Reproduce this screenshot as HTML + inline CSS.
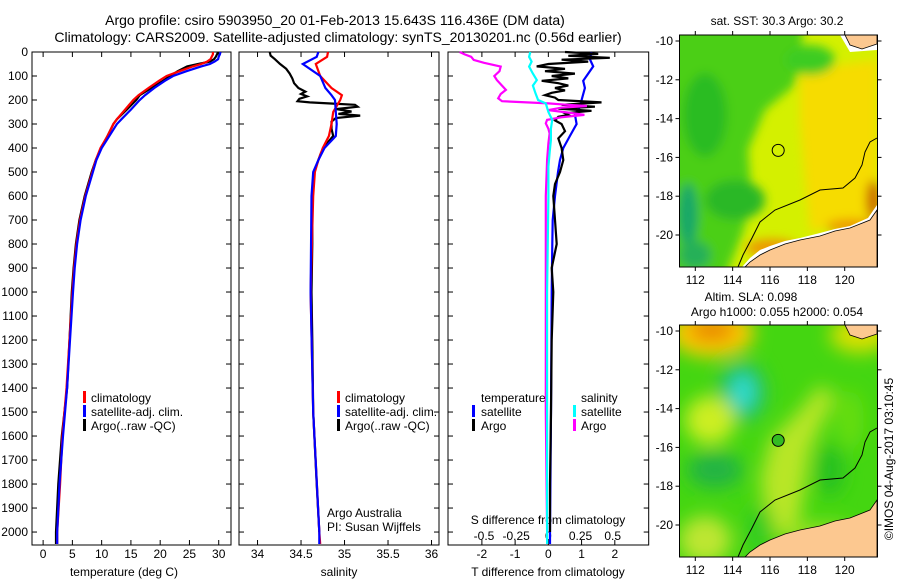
<!DOCTYPE html>
<html><head><meta charset="utf-8">
<style>
html,body{margin:0;padding:0;background:#fff;}
svg{display:block;font-family:"Liberation Sans",sans-serif;}
text{font-size:12px;fill:#000;}
.t14{font-size:14px;}
</style></head>
<body>
<svg id="fig" width="900" height="580" viewBox="0 0 900 580" xmlns="http://www.w3.org/2000/svg">
<defs>
<clipPath id="clipSST"><rect x="679.5" y="35" width="198" height="232"/></clipPath>
<clipPath id="clipSLA"><rect x="679.5" y="325" width="198" height="232"/></clipPath>
<filter id="blurS" x="-20%" y="-20%" width="140%" height="140%"><feGaussianBlur stdDeviation="5"/></filter>
<filter id="blurL" x="-30%" y="-30%" width="160%" height="160%"><feGaussianBlur stdDeviation="9"/></filter>
</defs>
<text class="t14" x="335" y="25" text-anchor="middle">Argo profile: csiro 5903950_20 01-Feb-2013 15.643S 116.436E (DM data)</text>
<text class="t14" x="338" y="42" text-anchor="middle">Climatology: CARS2009. Satellite-adjusted climatology: synTS_20130201.nc (0.56d earlier)</text>

<!-- SST map -->
<g clip-path="url(#clipSST)">
  <rect x="679.5" y="35" width="198" height="232" fill="#d4f000"/>
  <g filter="url(#blurS)">
    <polygon points="800,70 877,60 877,215 810,232 805,180 800,120" fill="#f6dc00"/>
    <polygon points="640,20 805,20 795,85 765,110 748,150 752,200 742,235 720,290 640,290" fill="#4ccf14"/>
    <ellipse cx="705" cy="115" rx="22" ry="42" fill="#2cbc22"/>
    <ellipse cx="735" cy="200" rx="30" ry="20" fill="#2cb828"/>
    <ellipse cx="688" cy="215" rx="10" ry="32" fill="#18a868"/>
    <ellipse cx="695" cy="255" rx="16" ry="14" fill="#26b058"/>
    <ellipse cx="810" cy="60" rx="25" ry="15" fill="#3ccc22"/>
    <ellipse cx="772" cy="248" rx="26" ry="9" fill="#ec9a00"/>
    <ellipse cx="852" cy="226" rx="26" ry="7" fill="#ec9a00"/>
    <ellipse cx="873" cy="200" rx="7" ry="20" fill="#cc6a00"/>
  </g>
  <polygon points="840,35 877,35 877,50 850,52" fill="#ffffff"/>
  <polygon points="845,35 877,35 877,44 862,49 850,45" fill="#fcc890" stroke="#000" stroke-width="0.8"/>
  <polygon points="877,205 868,218 850,226 835,229 820,233 800,238 785,241 770,246 760,250 750,258 742,267 877,267" fill="#ffffff"/>
  <polygon points="877,210 870,220 850,228 835,231 820,236 800,240 785,244 770,250 760,255 750,262 745,267 877,267" fill="#fcc890" stroke="#000" stroke-width="0.8"/>
  <polyline points="877,138 870,142 865,152 862,165 855,178 843,188 820,190 800,200 775,210 760,222 752,238 743,255 738,267" fill="none" stroke="#000" stroke-width="1"/>
  <circle cx="778.2" cy="150.4" r="6" fill="none" stroke="#000" stroke-width="1"/>
</g>
<rect x="679.5" y="35" width="198" height="232" fill="none" stroke="#000" stroke-width="1"/>
<text x="777" y="25" text-anchor="middle">sat. SST: 30.3 Argo: 30.2</text>

<!-- SLA map -->
<g clip-path="url(#clipSLA)">
  <rect x="679.5" y="325" width="198" height="232" fill="#44d611"/>
  <g filter="url(#blurL)">
    <ellipse cx="712" cy="333" rx="42" ry="24" fill="#ffcc00"/>
    <ellipse cx="712" cy="330" rx="24" ry="12" fill="#e88800"/>
    <ellipse cx="860" cy="335" rx="30" ry="18" fill="#d8e000"/>
    <ellipse cx="742" cy="392" rx="24" ry="30" fill="#22c066"/>
    <ellipse cx="743" cy="392" rx="12" ry="18" fill="#33dcd0"/>
    <ellipse cx="710" cy="420" rx="25" ry="24" fill="#ccee22"/>
    <ellipse cx="705" cy="540" rx="26" ry="24" fill="#bde633"/>
    <ellipse cx="715" cy="470" rx="28" ry="18" fill="#22b444"/>
    <polygon points="770,440 800,410 820,385 835,395 810,450 800,520 770,540 760,480" fill="#b8e625"/>
    <ellipse cx="830" cy="470" rx="14" ry="26" fill="#28c022"/>
    <ellipse cx="850" cy="420" rx="14" ry="30" fill="#66dd11"/>
    <ellipse cx="760" cy="530" rx="14" ry="25" fill="#33cc22"/>
    <ellipse cx="820" cy="535" rx="40" ry="12" fill="#99e022"/>
  </g>
  <polygon points="845,325 877,325 877,334 862,339 850,335" fill="#fcc890" stroke="#000" stroke-width="0.8"/>
  <polygon points="877,500 870,510 850,518 835,521 820,526 800,530 785,534 770,540 760,545 750,552 745,557 877,557" fill="#fcc890" stroke="#000" stroke-width="0.8"/>
  <polyline points="877,428 870,432 865,442 862,455 855,468 843,478 820,480 800,490 775,500 760,512 752,528 743,545 738,557" fill="none" stroke="#000" stroke-width="1"/>
  <circle cx="778.2" cy="440.4" r="6" fill="#33bb22" stroke="#000" stroke-width="1"/>
</g>
<rect x="679.5" y="325" width="198" height="232" fill="none" stroke="#000" stroke-width="1"/>
<text x="751" y="301" text-anchor="middle">Altim. SLA: 0.098</text>
<text x="777" y="316" text-anchor="middle">Argo h1000: 0.055 h2000: 0.054</text>
<text x="0" y="0" transform="translate(893,459) rotate(-90)" text-anchor="middle">©IMOS 04-Aug-2017 03:10:45</text>

<!-- legends / annotations -->
<g>
  <rect x="83" y="391" width="3" height="12" fill="#f00"/><text x="91" y="402">climatology</text>
  <rect x="83" y="405" width="3" height="12" fill="#00f"/><text x="91" y="416">satellite-adj. clim.</text>
  <rect x="83" y="419" width="3" height="12" fill="#000"/><text x="91" y="430">Argo(..raw -QC)</text>
</g>
<g>
  <rect x="337" y="391" width="3" height="12" fill="#f00"/><text x="345" y="402">climatology</text>
  <rect x="337" y="405" width="3" height="12" fill="#00f"/><text x="345" y="416">satellite-adj. clim.</text>
  <rect x="337" y="419" width="3" height="12" fill="#000"/><text x="345" y="430">Argo(..raw -QC)</text>
</g>
<text x="327" y="517">Argo Australia</text>
<text x="327" y="531">PI: Susan Wijffels</text>
<g>
  <text x="481" y="402">temperature</text>
  <rect x="472" y="405" width="3" height="12" fill="#00f"/><text x="481" y="416">satellite</text>
  <rect x="472" y="419" width="3" height="12" fill="#000"/><text x="481" y="430">Argo</text>
  <text x="581" y="402">salinity</text>
  <rect x="573" y="405" width="3" height="12" fill="#0ff"/><text x="581" y="416">satellite</text>
  <rect x="573" y="419" width="3" height="12" fill="#f0f"/><text x="581" y="430">Argo</text>
</g>
<text x="548" y="524" text-anchor="middle">S difference from climatology</text>
<text x="124" y="576" text-anchor="middle">temperature (deg C)</text>
<text x="339" y="576" text-anchor="middle">salinity</text>
<text x="548" y="576" text-anchor="middle">T difference from climatology</text>
</svg>

<script>
// ---------- data ----------
const tempDepth = [0,10,20,30,40,50,60,80,100,120,150,180,200,240,280,300,350,400,450,500,600,700,800,900,1000,1200,1400,1600,1800,2000,2050];
const tempClim = [29.0,29.0,28.8,28.6,28.0,27.0,25.6,23.3,21.1,19.8,18.0,16.3,15.4,14.0,12.6,12.0,11.0,9.8,9.0,8.4,7.2,6.3,5.7,5.3,5.0,4.5,4.0,3.3,2.9,2.4,2.4];
const tempSat = [30.3,30.2,30.0,29.9,29.3,28.5,27.0,24.5,22.2,20.8,19.0,17.4,16.5,15.0,13.4,12.6,11.3,10.0,9.1,8.5,7.3,6.4,5.8,5.4,5.1,4.6,4.1,3.4,2.8,2.4,2.4];
const tempArgo = [29.9,29.7,29.5,29.2,28.5,26.5,24.6,23.0,21.7,20.5,18.5,16.5,15.9,14.3,12.6,12.0,11.0,9.9,9.0,8.3,7.1,6.2,5.6,5.2,4.9,4.5,4.1,3.2,2.6,2.2,2.2];

const salDepth = [0,20,50,100,150,180,200,250,300,350,400,450,500,600,1000,1500,2000,2050];
const salClim = [34.81,34.80,34.67,34.72,34.85,34.97,34.95,34.87,34.85,34.82,34.75,34.70,34.66,34.64,34.61,34.64,34.71,34.72];
const salSat = [34.70,34.68,34.52,34.72,34.78,34.85,34.89,34.90,34.91,34.90,34.77,34.70,34.64,34.62,34.61,34.64,34.71,34.71];
const salArgoDepth = [0,15,30,50,70,90,110,130,150,165,175,185,195,205,210,215,220,228,238,248,258,265,275,290,320,350,380,420,470,500,600,800,1000,1200,1500,1800,2000];
const salArgo = [34.14,34.15,34.20,34.26,34.33,34.37,34.40,34.42,34.47,34.55,34.50,34.57,34.48,34.46,34.60,34.87,35.12,35.15,34.90,35.08,34.93,35.18,34.90,34.85,34.85,34.87,34.80,34.73,34.68,34.65,34.63,34.63,34.62,34.63,34.64,34.68,34.71];

const tDiffSatDepth = [0,30,60,90,120,150,200,230,260,300,350,400,450,500,600,700,800,1000,1500,2000,2050];
const tDiffSat = [1.3,1.25,1.35,1.2,1.05,1.1,1.0,0.95,0.8,0.85,0.65,0.45,0.35,0.29,0.2,0.13,0.12,0.1,0.08,0.05,0.05];
const tDiffArgoDepth = [0,8,16,24,32,40,50,60,70,80,90,100,110,120,130,140,150,160,170,180,190,200,210,220,228,236,245,255,262,270,285,300,330,360,400,450,500,550,600,700,800,900,1000,1200,1500,1800,2000];
const tDiffArgo = [0.5,1.5,0.6,1.85,0.4,1.2,0.0,-0.35,0.5,-0.1,0.8,0.1,0.6,-0.2,0.3,0.6,0.2,0.5,0.1,-0.1,0.2,0.3,1.6,0.4,1.4,0.3,1.3,0.5,0.6,0.3,0.2,0.4,0.5,0.3,0.4,0.45,0.35,0.2,0.15,0.2,0.25,0.1,0.15,0.1,0.08,0.05,0.05];
const sDiffArgoDepth = [0,10,20,33,45,61,80,100,117,140,158,175,193,205,214,220,225,232,242,252,262,272,283,297,320,339,380,450,600,1000,1500,2000];
const sDiffArgo = [-0.69,-0.65,-0.6,-0.58,-0.5,-0.37,-0.38,-0.42,-0.4,-0.36,-0.33,-0.37,-0.39,-0.36,0.0,0.15,0.3,0.1,0.0,0.15,0.28,0.1,-0.01,-0.02,0.0,0.01,0.0,-0.01,-0.02,-0.02,-0.02,-0.01];
const sDiffSatDepth = [0,20,40,61,90,117,140,172,200,214,250,283,320,367,420,478,600,1000,2000,2050];
const sDiffSat = [-0.14,-0.15,-0.13,-0.15,-0.12,-0.09,-0.12,-0.1,-0.08,-0.02,0.0,0.03,0.02,0.02,0.01,0.0,0.0,-0.01,-0.01,-0.01];

const depthTicks = [0,100,200,300,400,500,600,700,800,900,1000,1100,1200,1300,1400,1500,1600,1700,1800,1900,2000];
const tempTicks = [0,5,10,15,20,25,30];
const salTicks = [34,34.5,35,35.5,36];
const tDiffTicks = [-2,-1,0,1,2];
const sDiffTicks = [-0.5,-0.25,0,0.25,0.5];
const sDiffTickLabels = ["-0.5","-0.25","0","0.25","0.5"];
const lonTicks = [112,114,116,118,120];
const latTicks = [-10,-12,-14,-16,-18,-20];

// ---------- scales ----------
const PT = 52, PB = 545, DMAX = 2054;
const yD = d => PT + d / DMAX * (PB - PT);
const lin = (d0,d1,r0,r1) => v => r0 + (v - d0) / (d1 - d0) * (r1 - r0);
const xTemp = lin(-1.9, 32.1, 32, 231);
const xSal = lin(33.787, 36.086, 239, 439);
const xTD = lin(-3.02, 3.02, 448, 648.7);
const xSD = lin(-0.78, 0.78, 448, 648.7);
const xLon = lin(112, 120, 695.3, 844.7);
const yLatSST = lin(-10, -20, 41, 235);
const yLatSLA = lin(-10, -20, 331, 525);

const NS = "http://www.w3.org/2000/svg";
const svg = document.getElementById('fig');
function mk(tag, attrs, parent) {
  const e = document.createElementNS(NS, tag);
  for (const k in attrs) e.setAttribute(k, attrs[k]);
  (parent || svg).appendChild(e);
  return e;
}

const panels = [
  {name:'temperature', x0:32, x1:231, ticks:tempTicks, sx:xTemp, labels:tempTicks.map(String), labY:558},
  {name:'salinity', x0:239, x1:439, ticks:salTicks, sx:xSal, labels:salTicks.map(String), labY:558},
  {name:'difference', x0:448, x1:648.7, ticks:tDiffTicks, sx:xTD, labels:tDiffTicks.map(String), labY:558}
];
panels.forEach((p, i) => {
  const g = mk('g', {});
  
  
  mk('rect', {x:p.x0, y:PT, width:p.x1-p.x0, height:PB-PT, fill:'none', stroke:'#000', 'stroke-width':1}, g);
  depthTicks.forEach(d => {
    const y = yD(d);
    mk('line', {x1:p.x0, x2:p.x0+5, y1:y, y2:y, stroke:'#000'}, g);
    mk('line', {x1:p.x1-5, x2:p.x1, y1:y, y2:y, stroke:'#000'}, g);
  });
  p.ticks.forEach((t, j) => {
    const x = p.sx(t);
    mk('line', {x1:x, x2:x, y1:PT, y2:PT+5, stroke:'#000'}, g);
    mk('line', {x1:x, x2:x, y1:PB-5, y2:PB, stroke:'#000'}, g);
    const tx = mk('text', {x:x, y:p.labY, 'text-anchor':'middle'}, g);
    tx.textContent = p.labels[j];
    
    
  });
});
depthTicks.forEach(d => {
  const t = mk('text', {x:28, y:yD(d)+4, 'text-anchor':'end'});
  t.textContent = String(d);
  
  
});
sDiffTicks.forEach((s, j) => {
  const t = mk('text', {x:xSD(s), y:540, 'text-anchor':'middle'});
  t.textContent = sDiffTickLabels[j];
  
  
});

function series(depths, vals, sx, color, name) {
  const pts = depths.map((d, i) => sx(vals[i]).toFixed(1) + ',' + yD(d).toFixed(1)).join(' ');
  const pl = mk('polyline', {points:pts, fill:'none', stroke:color, 'stroke-width':2.2, 'stroke-linejoin':'miter'});
  
  
  return pl;
}
series(tempDepth, tempArgo, xTemp, '#000', 'temperature-argo-line');
series(tempDepth, tempClim, xTemp, '#f00', 'temperature-climatology-line');
series(tempDepth, tempSat, xTemp, '#00f', 'temperature-satellite-line');
series(salArgoDepth, salArgo, xSal, '#000', 'salinity-argo-line');
series(salDepth, salClim, xSal, '#f00', 'salinity-climatology-line');
series(salDepth, salSat, xSal, '#00f', 'salinity-satellite-line');
series(tDiffSatDepth, tDiffSat, xTD, '#00f', 't-difference-satellite-line');
series(tDiffArgoDepth, tDiffArgo, xTD, '#000', 't-difference-argo-line');
series(sDiffArgoDepth, sDiffArgo, xSD, '#f0f', 's-difference-argo-line');
series(sDiffSatDepth, sDiffSat, xSD, '#0ff', 's-difference-satellite-line');

[{y0:35, y1:267, sy:yLatSST, n:'sst'}, {y0:325, y1:557, sy:yLatSLA, n:'sla'}].forEach(m => {
  lonTicks.forEach(l => {
    const x = xLon(l);
    mk('line', {x1:x, x2:x, y1:m.y0-4, y2:m.y0, stroke:'#000'});
    mk('line', {x1:x, x2:x, y1:m.y1, y2:m.y1+4, stroke:'#000'});
    const t = mk('text', {x:x, y:m.y1+17, 'text-anchor':'middle'});
    t.textContent = String(l);
    
    
  });
  latTicks.forEach(l => {
    const y = m.sy(l);
    mk('line', {x1:675.5, x2:679.5, y1:y, y2:y, stroke:'#000'});
    mk('line', {x1:877.5, x2:881.5, y1:y, y2:y, stroke:'#000'});
    const t = mk('text', {x:673, y:y+4, 'text-anchor':'end'});
    t.textContent = String(l);
    
    
  });
});
</script>
</body></html>
